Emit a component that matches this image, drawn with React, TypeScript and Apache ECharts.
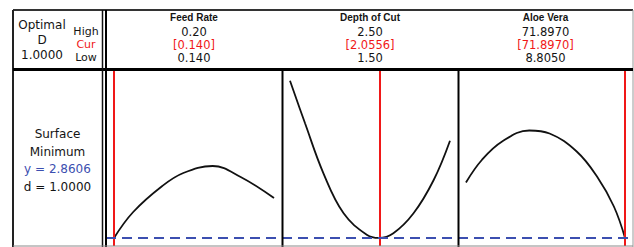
import React, { useEffect, useRef } from "react";
import * as echarts from "echarts";

// Factors (columns)
const factorNames = ["Feed Rate", "Depth of Cut", "Aloe Vera"];
const highLabels = ["0.20", "2.50", "71.8970"];
const curLabels = ["[0.140]", "[2.0556]", "[71.8970]"];
const lowLabels = ["0.140", "1.50", "8.8050"];
const lows = [0.14, 1.5, 8.805];
const highs = [0.2, 2.5, 71.897];
const curs = [0.14, 2.0556, 71.897];

// Response curves (Surface vs each factor)
const feedRateX = [0.14, 0.1472, 0.1581, 0.166, 0.177, 0.1875, 0.2];
const feedRateY = [2.8606, 3.38, 3.9, 4.16, 4.3, 4.08, 3.66];
const depthX = [1.5, 1.594, 1.709, 1.835, 1.982, 2.0556, 2.146, 2.272, 2.398, 2.5];
const depthY = [6.006, 5.154, 4.154, 3.354, 2.92, 2.8606, 2.954, 3.354, 4.02, 4.806];
const aloeX = [8.805, 15.09, 23.15, 33.91, 41.97, 52.72, 60.78, 67.47, 71.897];
const aloeY = [3.97, 4.42, 4.79, 5.01, 4.95, 4.59, 4.09, 3.49, 2.8606];

const curveXs = [feedRateX, depthX, aloeX];
const curveYs = [feedRateY, depthY, aloeY];

// Response summary
const optimalLines = ["Optimal", "D", "1.0000"];
const rowLabels = ["High", "Cur", "Low"];
const responseLines = ["Surface", "Minimum"];
const yOptimal = 2.8606;
const yText = "y = 2.8606";
const dText = "d = 1.0000";

const yMin = 2.7;
const yMax = 6.22;

const FONT = '"DejaVu Sans", sans-serif';
const TITLE_FONT = '"Liberation Sans", Arial, sans-serif';
const DARK = "#141414";
const RED = "#f01818";
const BLUE = "#3c4fb0";

export default function App() {
  const ref = useRef<HTMLDivElement>(null);
  useEffect(() => {
    if (!ref.current) return;
    const chart = echarts.init(ref.current, null, { renderer: "svg" });

    const gridBoxes = [
      { left: 106, width: 176 },
      { left: 282, width: 176 },
      { left: 458, width: 175 },
    ];
    const colCenters = [194, 370, 545.5];

    const grids = gridBoxes.map((g) => ({ left: g.left, width: g.width, top: 70, height: 176, show: false }));
    const xAxes = lows.map((lo, i) => {
      const r = highs[i] - lo;
      return {
        type: "value" as const,
        gridIndex: i,
        min: lo - 0.05 * r,
        max: highs[i] + 0.05 * r,
        axisLine: { show: false },
        axisTick: { show: false },
        axisLabel: { show: false },
        splitLine: { show: false },
      };
    });
    const yAxes = lows.map((_, i) => ({
      type: "value" as const,
      gridIndex: i,
      min: yMin,
      max: yMax,
      axisLine: { show: false },
      axisTick: { show: false },
      axisLabel: { show: false },
      splitLine: { show: false },
    }));

    const series = curveXs.map((xs, i) => ({
      type: "line" as const,
      xAxisIndex: i,
      yAxisIndex: i,
      data: xs.map((x, k) => [x, curveYs[i][k]]),
      smooth: 0.4,
      showSymbol: false,
      lineStyle: { color: "#111", width: 1.8 },
      markLine: {
        silent: true,
        symbol: ["none", "none"],
        label: { show: false },
        data: [
          { xAxis: curs[i], lineStyle: { color: RED, width: 2, type: "solid" } },
          { yAxis: yOptimal, lineStyle: { color: BLUE, width: 2, type: [10, 6] } },
        ],
      },
    }));

    const line = (x1: number, y1: number, x2: number, y2: number, stroke: string, w: number) => ({
      type: "line",
      shape: { x1, y1, x2, y2 },
      style: { stroke, lineWidth: w },
      z: 10,
      silent: true,
    });
    const text = (t: string, x: number, y: number, fill: string, size: number, family = FONT, weight = "normal") => ({
      type: "text",
      x,
      y,
      z: 11,
      silent: true,
      style: {
        text: t,
        fill,
        font: `${weight} ${size}px ${family}`,
        align: "center",
        verticalAlign: "middle",
      },
    });

    const graphics: any[] = [
      line(13, 10, 633, 10, "#333", 2),
      line(13, 10, 13, 247, "#222", 2),
      line(633, 10, 633, 247, "#9a9a9a", 1),
      line(13, 69.5, 633, 69.5, "#000", 3),
      line(102.5, 10, 102.5, 247, "#111", 1.5),
      line(106, 10, 106, 247, "#000", 2),
      line(282.5, 69, 282.5, 247, "#000", 2),
      line(458.5, 69, 458.5, 247, "#000", 2),
      line(13, 246, 633, 246, "#8a8a8a", 1),
    ];

    const optY = [25, 39.5, 54.5];
    optimalLines.forEach((t, i) => graphics.push(text(t, 42, optY[i], DARK, 12)));
    const rowY = [31.5, 44.5, 57.5];
    rowLabels.forEach((t, i) => graphics.push(text(t, 86, rowY[i], i === 1 ? RED : DARK, 11)));

    factorNames.forEach((name, i) => {
      graphics.push(text(name, colCenters[i], 17.5, DARK, 10, TITLE_FONT, "bold"));
      graphics.push(text(highLabels[i], colCenters[i], rowY[0], DARK, 11.5));
      graphics.push(text(curLabels[i], colCenters[i], rowY[1], RED, 11.5));
      graphics.push(text(lowLabels[i], colCenters[i], rowY[2], DARK, 11.5));
    });

    graphics.push(text(responseLines[0], 57.5, 133.5, DARK, 12));
    graphics.push(text(responseLines[1], 57.5, 151.5, DARK, 12));
    graphics.push(text(yText, 57.5, 169, BLUE, 12));
    graphics.push(text(dText, 57.5, 186.5, DARK, 12));

    chart.setOption({
      animation: false,
      backgroundColor: "#fff",
      grid: grids,
      xAxis: xAxes,
      yAxis: yAxes,
      series,
      graphic: graphics,
    });
    return () => chart.dispose();
  }, []);
  return <div ref={ref} style={{ position: "absolute", left: 0, top: 0, width: 634, height: 247 }} />;
}
